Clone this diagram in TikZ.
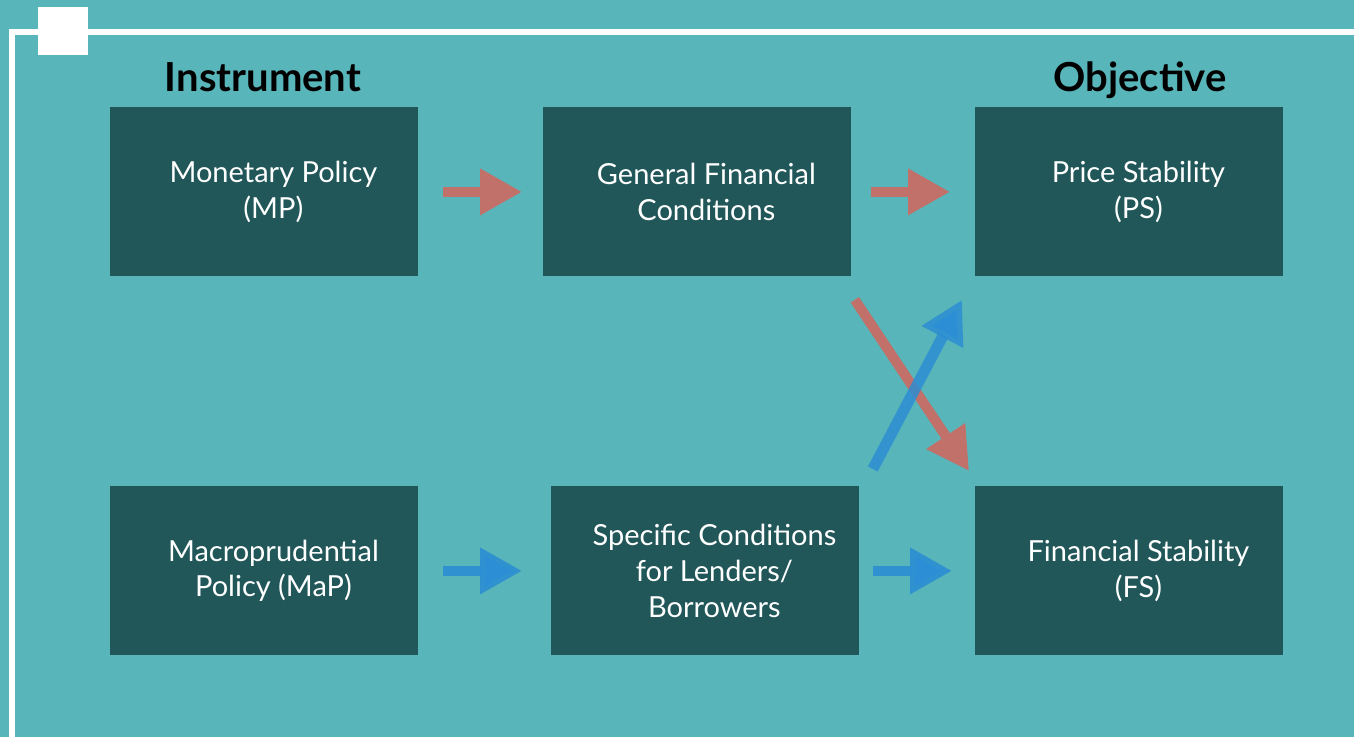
\documentclass[tikz,border=0pt]{standalone}
\usepackage{fontspec}
\setmainfont{Lato}
\usetikzlibrary{arrows.meta,calc}

\definecolor{bgteal}{HTML}{58B5B9}
\definecolor{boxteal}{HTML}{215759}
\definecolor{mpred}{HTML}{C1706A}
\definecolor{mapblue}{HTML}{2C8ED4}

\tikzset{
  heading/.style={font=\fontsize{20}{24}\selectfont\bfseries, text=black, anchor=base, inner sep=0pt},
  panel/.style={fill=boxteal, draw=none, minimum width=154pt, minimum height=84.5pt, inner sep=0pt, anchor=north west},
  paneltext/.style={text=white, align=center, font=\fontsize{14.5}{17.8}\selectfont, inner sep=0pt, xshift=4.5pt},
  flow/.style={line width=5pt, -{Triangle[width=22pt,length=21pt]}},
  mparrow/.style={flow, draw=mpred},
  maparrow/.style={flow, draw=mapblue, draw opacity=0.9},
}

\begin{document}
\begin{tikzpicture}[x=0.5pt, y=-0.5pt]
  % canvas
  \useasboundingbox (0,0) rectangle (1354,737);
  \fill[bgteal] (0,0) rectangle (1354,737);

  % white frame with corner tab
  \draw[white, line width=3pt] (1360,32) -- (12,32) -- (12,745);
  \fill[white] (38,7) rectangle (88,55);

  % column headings
  \node[heading] (instr) at (263,92) {Instrument};
  \node[heading] (objective) at (1140,92) {Objective};

  % panels
  \node[panel] (mp)  at (110,107) {};
  \node[panel] (gfc) at (543,107) {};
  \node[panel] (ps)  at (975,107) {};
  \node[panel] (map) at (110,486) {};
  \node[panel] (sc)  at (551,486) {};
  \node[panel] (fs)  at (975,486) {};

  \node[paneltext] (mpt)  at (mp.center)  {Monetary Policy\\(MP)};
  \node[paneltext] (gfct) at (gfc.center) {General Financial\\Conditions};
  \node[paneltext] (pst)  at (ps.center)  {Price Stability\\(PS)};
  \node[paneltext] (mapt) at (map.center) {Macroprudential\\Policy (MaP)};
  \node[paneltext] (sct)  at (sc.center)  {Specific Conditions\\for Lenders/\\Borrowers};
  \node[paneltext] (fst)  at (fs.center)  {Financial Stability\\(FS)};

  % transmission arrows
  \draw[mparrow, shorten <=12pt, shorten >=10.5pt] (mp.east) -- (gfc.west);
  \draw[mparrow, shorten <=9.5pt, shorten >=12.5pt] (gfc.east) -- (ps.west);
  \draw[maparrow, shorten <=12pt, shorten >=14.5pt] (map.east) -- (sc.west);
  \draw[maparrow, shorten <=6.5pt, shorten >=11.5pt] (sc.east) -- (fs.west);

  % cross-effects
  \coordinate (gfcout) at ($(gfc.south east)+(3,23)$);
  \coordinate (fsin)   at ($(fs.north west)+(-6,-15)$);
  \coordinate (scout)  at ($(sc.north east)+(13,-17)$);
  \coordinate (psin)   at ($(ps.south west)+(-13,23)$);
  \draw[mparrow] (gfcout) -- (fsin);
  \draw[maparrow, draw opacity=0.85, line width=5.5pt] (scout) -- (psin);
\end{tikzpicture}
\end{document}
